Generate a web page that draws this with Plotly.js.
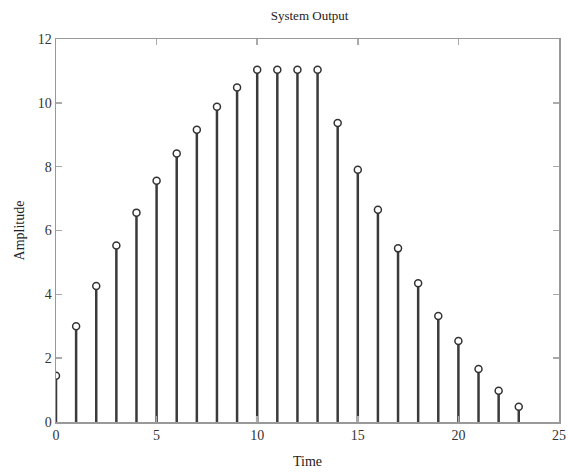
<!DOCTYPE html>
<html>
<head>
<meta charset="utf-8">
<script src="https://cdn.plot.ly/plotly-3.0.1.min.js"></script>
<style>html,body{margin:0;padding:0;background:#fff;}#chart{width:568px;height:472px;}</style>
</head>
<body>
<div id="chart"></div>
<script>
const time = [0,1,2,3,4,5,6,7,8,9,10,11,12,13,14,15,16,17,18,19,20,21,22,23];
const amplitude = [1.45,3.0,4.26,5.53,6.56,7.56,8.41,9.16,9.88,10.48,11.04,11.04,11.04,11.04,9.37,7.9,6.65,5.44,4.35,3.32,2.54,1.66,0.98,0.48];
const xTicks = [0,5,10,15,20,25];
const yTicks = [0,2,4,6,8,10,12];

const stems = {
  x: time, y: amplitude, type: 'scatter', mode: 'markers',
  marker: {symbol: 'circle', size: 7, color: '#ffffff', line: {width: 1.5, color: '#333'}},
  error_y: {type: 'data', symmetric: false, array: time.map(() => 0), arrayminus: amplitude,
            width: 0, thickness: 2.5, color: '#3a3a3a'},
  hoverinfo: 'x+y', showlegend: false
};
const font = {family: '"Liberation Serif", "Times New Roman", serif', color: '#222', size: 14};
const axisCommon = {showline: true, mirror: 'ticks', linecolor: '#999', linewidth: 1.5,
  ticks: 'inside', ticklen: 6, tickcolor: '#aaa', tickwidth: 1.5, showgrid: false, zeroline: false,
  tickfont: {family: font.family, size: 14, color: '#333'}};
const layout = {
  width: 568, height: 472,
  margin: {l: 56, r: 9, t: 39, b: 50},
  paper_bgcolor: '#fff', plot_bgcolor: '#fff',
  font: font,
  title: {text: 'System Output', font: {family: font.family, size: 13, color: '#222'}, x: 0.545, xanchor: 'center', y: 0.968, yanchor: 'middle'},
  xaxis: Object.assign({}, axisCommon, {range: [0, 25], tickvals: xTicks, ticktext: xTicks.map(String),
    title: {text: 'Time', font: {family: font.family, size: 14, color: '#222'}, standoff: 14}}),
  yaxis: Object.assign({}, axisCommon, {range: [0, 12], tickvals: yTicks, ticktext: yTicks.map(String),
    title: {text: 'Amplitude', font: {family: font.family, size: 14, color: '#222'}, standoff: 10}})
};
Plotly.newPlot('chart', [stems], layout, {displayModeBar: false, staticPlot: true});
</script>
</body>
</html>
